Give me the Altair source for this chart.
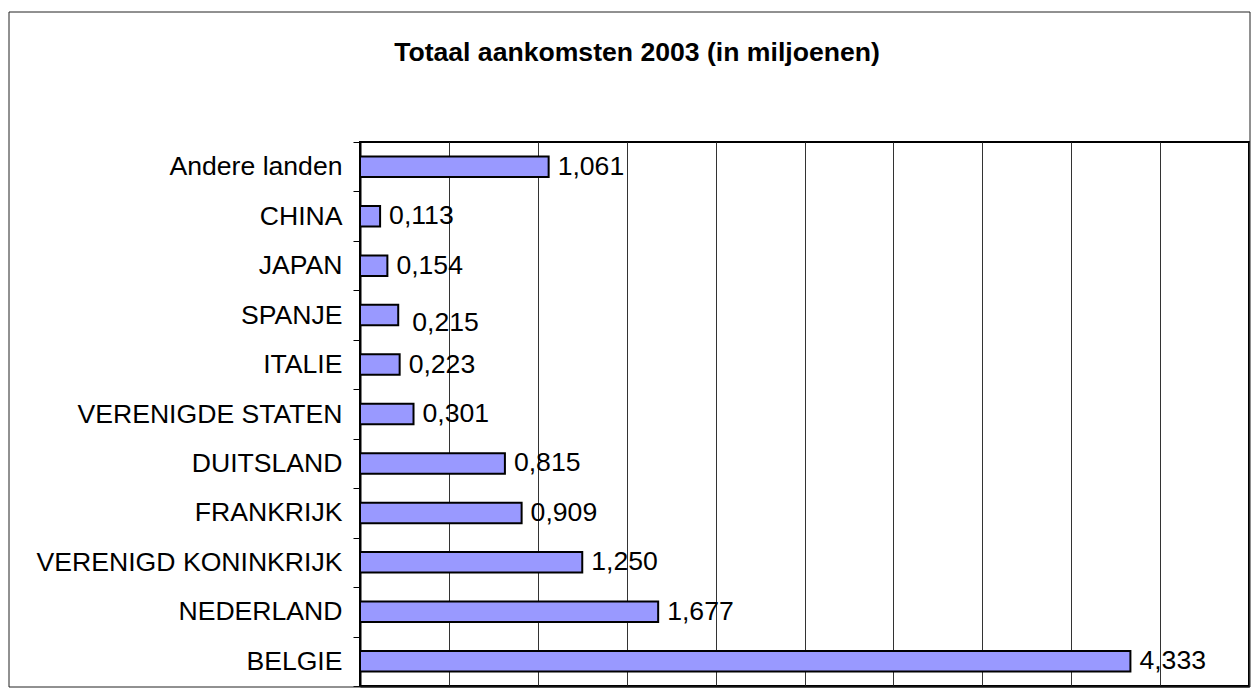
import altair as alt
import pandas as pd

countries = ["Andere landen", "CHINA", "JAPAN", "SPANJE", "ITALIE", "VERENIGDE STATEN",
             "DUITSLAND", "FRANKRIJK", "VERENIGD KONINKRIJK", "NEDERLAND", "BELGIE"]
arrivals = [1.061, 0.113, 0.154, 0.215, 0.223, 0.301, 0.815, 0.909, 1.250, 1.677, 4.333]
x_ticks = [0, 0.5, 1, 1.5, 2, 2.5, 3, 3.5, 4, 4.5, 5]
title_text = "Totaal aankomsten 2003 (in miljoenen)"

df = pd.DataFrame({"land": countries, "waarde": arrivals})

FONT = "Liberation Sans"
FS = 26.6
W, H = 889, 544

base = alt.Chart(df).transform_calculate(
    lab="replace(format(datum.waarde, '.3f'), '.', ',')"
)

x_enc = alt.X("waarde:Q", scale=alt.Scale(domain=[0, 5], nice=False, zero=True),
              axis=alt.Axis(values=x_ticks, labels=False, ticks=False, title=None,
                            grid=True, gridColor="#333333", gridWidth=1,
                            domain=True, domainColor="black", domainWidth=2))
y_enc = alt.Y("land:N", sort=countries,
              scale=alt.Scale(paddingInner=0, paddingOuter=0),
              axis=alt.Axis(title=None, labelFont=FONT, labelFontSize=FS, labelColor="black",
                            labelPadding=11, tickSize=7, tickColor="black", tickWidth=1,
                            tickBand="extent", domainColor="black", domainWidth=2,
                            grid=False, labelLimit=400))

bars = base.mark_bar(size=20.5, color="#9999FF", stroke="black", strokeWidth=2).encode(
    x=x_enc, y=y_enc)

labels = base.transform_filter("datum.land != 'SPANJE'").mark_text(
    align="left", baseline="middle", dx=9, font=FONT, fontSize=FS, color="black"
).encode(x="waarde:Q", y=alt.Y("land:N", sort=countries), text="lab:N")

label_spanje = base.transform_filter("datum.land == 'SPANJE'").mark_text(
    align="left", baseline="middle", dx=14, dy=8, font=FONT, fontSize=FS, color="black"
).encode(x="waarde:Q", y=alt.Y("land:N", sort=countries), text="lab:N")

title = alt.Chart(pd.DataFrame({"t": [title_text]})).mark_text(
    align="center", baseline="alphabetic", font=FONT, fontSize=FS, fontWeight="bold",
    color="black"
).encode(x=alt.value(277), y=alt.value(-81), text="t:N")

frame = alt.Chart(pd.DataFrame({"t": [0]})).mark_rect(
    fill=None, fillOpacity=0, stroke="#222222", strokeWidth=1
).encode(x=alt.value(-351), x2=alt.value(890), y=alt.value(-130), y2=alt.value(545))

chart = alt.layer(frame, bars, labels, label_spanje, title).properties(
    width=W, height=H,
    background="white",
    autosize=alt.AutoSizeParams(type="none"),
    padding={"left": 352, "top": 134, "right": 2, "bottom": 2},
).configure_view(stroke="black", strokeWidth=2)

chart.save("out.html", embed_options={"renderer": "svg", "actions": False})
